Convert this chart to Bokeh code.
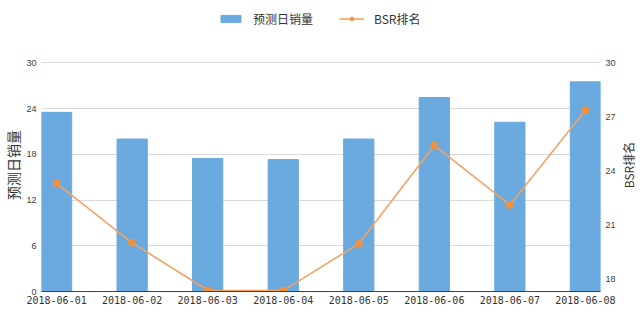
import math
from bokeh.plotting import figure
from bokeh.layouts import row
from bokeh.models import (Range1d, LinearAxis, FixedTicker, Legend, LegendItem,
                          ColumnDataSource)
from bokeh.core.properties import value
from bokeh.embed import file_html
from bokeh.resources import INLINE

dates = ["2018-06-01", "2018-06-02", "2018-06-03", "2018-06-04",
         "2018-06-05", "2018-06-06", "2018-06-07", "2018-06-08"]
sales = [23.5, 20.0, 17.45, 17.3, 20.0, 25.45, 22.2, 27.5]
bsr = [23.3, 20.0, 17.37, 17.35, 19.95, 25.4, 22.1, 27.35]
left_ticks = [0, 6, 12, 18, 24, 30]
right_ticks = [18, 21, 24, 27, 30]
left_title = "预测日销量"
right_title = "BSR排名"

W, H = 640, 313
SIDE_L, SIDE_R = 23, 22

idx = list(range(len(dates)))
src = ColumnDataSource(dict(x=idx, sales=sales, bsr=bsr))

# main figure: frame spans full height (legend sits inside its top part)
p = figure(width=W - SIDE_L - SIDE_R, height=H, output_backend="svg",
           toolbar_location=None,
           x_range=Range1d(-0.2, len(dates) - 0.8), y_range=Range1d(0, 38.17),
           min_border_left=41 - SIDE_L, min_border_right=40 - SIDE_R,
           min_border_top=0, min_border_bottom=22, y_axis_location=None)
p.title.visible = False
p.outline_line_color = None
p.background_fill_color = "white"
p.border_fill_color = "white"
p.extra_y_ranges = {"bsr": Range1d(17.3, 33.44)}

bars = p.vbar(x="x", top="sales", width=0.4, source=src,
              fill_color="#6aaade", line_color="#6aaade")
ln = p.line(x="x", y="bsr", source=src, y_range_name="bsr",
            line_color="#f5a262", line_width=1.6)
pts = p.scatter(x="x", y="bsr", source=src, y_range_name="bsr", size=7,
                fill_color="#f0913f", line_color="#f0913f")

p.xgrid.grid_line_color = None
p.ygrid.grid_line_color = "#d9d9d9"
p.ygrid.ticker = FixedTicker(ticks=left_ticks)

xa = p.xaxis[0]
xa.ticker = FixedTicker(ticks=idx)
xa.major_label_overrides = {i: d for i, d in zip(idx, dates)}
xa.major_tick_line_color = None
xa.minor_tick_line_color = None
xa.major_tick_out = 0
xa.major_tick_in = 0
xa.axis_line_color = "#404040"
xa.major_label_text_font = "DejaVu Sans Mono"
xa.major_label_text_font_size = "10px"
xa.major_label_text_color = "#333333"
xa.major_label_standoff = 4

la = LinearAxis(ticker=FixedTicker(ticks=left_ticks))
ra = LinearAxis(ticker=FixedTicker(ticks=right_ticks), y_range_name="bsr")
for ax in (la, ra):
    ax.axis_line_color = None
    ax.major_tick_line_color = None
    ax.minor_tick_line_color = None
    ax.major_tick_out = 0
    ax.major_tick_in = 0
    ax.major_label_text_font = "Liberation Sans"
    ax.major_label_text_font_size = "9px"
    ax.major_label_text_color = "#404040"
    ax.major_label_standoff = 5
p.add_layout(la, "left")
p.add_layout(ra, "right")

legend = Legend(items=[LegendItem(label="预测日销量", renderers=[bars]),
                       LegendItem(label="BSR排名", renderers=[ln, pts])],
                orientation="horizontal", location=(177, 264),
                padding=0, margin=0, spacing=26, label_standoff=10,
                glyph_width=25, glyph_height=9,
                label_text_font="Noto Sans CJK SC", label_text_font_size="12px",
                label_text_color="#333333", border_line_color=None,
                background_fill_alpha=0)
p.add_layout(legend, "center")


def title_fig(text, width, x_center, size):
    f = figure(width=width, height=H, output_backend="svg", toolbar_location=None,
               x_range=Range1d(0, width), y_range=Range1d(0, H),
               min_border=0, x_axis_location=None, y_axis_location=None)
    f.title.visible = False
    f.outline_line_color = None
    f.grid.visible = False
    f.text(x=[x_center], y=[H - 177], text=[text], angle=math.pi / 2,
           text_align="center", text_baseline="middle",
           text_font=value("Noto Sans CJK SC"), text_font_size=size,
           text_color="#333333")
    return f


lt = title_fig(left_title, SIDE_L, 12, "14px")
rt = title_fig(right_title, SIDE_R, 10, "12px")

layout = row(lt, p, rt, spacing=0)
open("out.html", "w").write(file_html(layout, INLINE))
